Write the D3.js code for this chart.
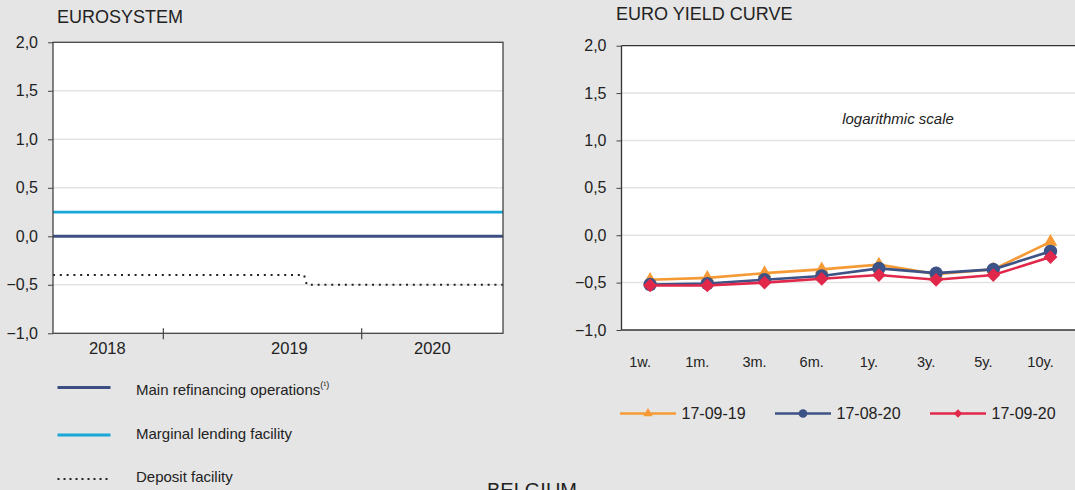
<!DOCTYPE html>
<html>
<head>
<meta charset="utf-8">
<script src="https://cdn.jsdelivr.net/npm/d3@7"></script>
<style>
  html, body { margin: 0; padding: 0; background: #e5e5e5; }
  svg { display: block; font-family: "Liberation Sans", Arial, sans-serif; }
</style>
</head>
<body>
<div id="chart"></div>
<script>
// ---- data: Eurosystem policy rates ----
var rateDates = ["2018-06-12", "2019-09-17", "2019-09-22", "2020-09-17"];
var mroRates = [0.00, 0.00, 0.00, 0.00];
var mlfRates = [0.25, 0.25, 0.25, 0.25];
var dfrRates = [-0.40, -0.40, -0.50, -0.50];
var yearLabels = ["2018", "2019", "2020"];
var yearLabelDates = ["2018-09-20", "2019-08-21", "2020-05-10"];
var yearTickDates = ["2019-01-01", "2020-01-01"];
var rateTicks = [2.0, 1.5, 1.0, 0.5, 0.0, -0.5, -1.0];

// ---- data: euro yield curve ----
var maturities = ["1w.", "1m.", "3m.", "6m.", "1y.", "3y.", "5y.", "10y."];
var curve190917 = [-0.47, -0.45, -0.40, -0.36, -0.31, -0.41, -0.36, -0.07];
var curve200817 = [-0.52, -0.51, -0.47, -0.43, -0.35, -0.40, -0.36, -0.17];
var curve200917 = [-0.53, -0.53, -0.50, -0.46, -0.42, -0.47, -0.42, -0.23];
var curveNames = ["17-09-19", "17-08-20", "17-09-20"];

var width = 1075;
var height = 490;
var parse = d3.timeParse("%Y-%m-%d");
var fmt = function(v) { return d3.format(".1f")(v).replace(".", ","); };

var svg = d3.select("#chart")
    .append("svg")
    .attr("width", width)
    .attr("height", height);

svg.append("rect").attr("width", width).attr("height", height).attr("fill", "#e5e5e5");

// =============== left chart ===============
var L = {left: 53, right: 503, top: 42.3, bottom: 333.3};

var xTime = d3.scaleTime()
    .domain([parse(rateDates[0]), parse(rateDates[rateDates.length - 1])])
    .range([L.left, L.right]);
var yLeft = d3.scaleLinear().domain([-1, 2]).range([L.bottom, L.top]);

svg.append("text")
    .attr("x", 57).attr("y", 23)
    .attr("font-size", 18).attr("fill", "#222")
    .text("EUROSYSTEM");

svg.append("rect")
    .attr("x", L.left).attr("y", L.top)
    .attr("width", L.right - L.left).attr("height", L.bottom - L.top)
    .attr("fill", "#fff");

// grid
svg.append("g").selectAll("line")
    .data(rateTicks.filter(function(d) { return d > -1 && d < 2; }))
    .enter().append("line")
    .attr("x1", L.left).attr("x2", L.right)
    .attr("y1", function(d) { return yLeft(d); })
    .attr("y2", function(d) { return yLeft(d); })
    .attr("stroke", "#e3e3e3").attr("stroke-width", 1.5);

// y axis
var yAxisL = d3.axisLeft(yLeft).tickValues(rateTicks).tickSize(5).tickPadding(10).tickFormat(fmt);
var gyl = svg.append("g").attr("transform", "translate(" + L.left + ",0)").call(yAxisL);
gyl.select(".domain").remove();
gyl.selectAll("line").attr("stroke", "#444");
gyl.selectAll("text").attr("font-size", 16).attr("fill", "#222").attr("font-family", "Liberation Sans, Arial, sans-serif");

// x ticks (year boundaries)
svg.append("g").selectAll("line")
    .data(yearTickDates)
    .enter().append("line")
    .attr("x1", function(d) { return xTime(parse(d)); })
    .attr("x2", function(d) { return xTime(parse(d)); })
    .attr("y1", L.bottom - 5).attr("y2", L.bottom + 6)
    .attr("stroke", "#444").attr("stroke-width", 1.2);

svg.append("g").selectAll("text")
    .data(yearLabels)
    .enter().append("text")
    .attr("x", function(d, i) { return xTime(parse(yearLabelDates[i])); })
    .attr("y", 354)
    .attr("text-anchor", "middle")
    .attr("font-size", 16.5).attr("fill", "#222")
    .text(function(d) { return d; });

function rateLine(values) {
    return d3.line()
        .x(function(d, i) { return xTime(parse(rateDates[i])); })
        .y(function(d) { return yLeft(d); })(values);
}

svg.append("path").attr("d", rateLine(mlfRates))
    .attr("fill", "none").attr("stroke", "#19a6d8").attr("stroke-width", 2.8);
svg.append("path").attr("d", rateLine(mroRates))
    .attr("fill", "none").attr("stroke", "#3d4f82").attr("stroke-width", 3);
svg.append("path").attr("d", rateLine(dfrRates))
    .attr("fill", "none").attr("stroke", "#222").attr("stroke-width", 2)
    .attr("stroke-dasharray", "2,4.8");

// frame
svg.append("rect")
    .attr("x", L.left).attr("y", L.top)
    .attr("width", L.right - L.left).attr("height", L.bottom - L.top)
    .attr("fill", "none").attr("stroke", "#444").attr("stroke-width", 1.3);

// left legend
var legL = [
    {name: "Main refinancing operations", sup: "(¹)", color: "#3d4f82", w: 3, dash: null, y: 387.5, ty: 395},
    {name: "Marginal lending facility", sup: "", color: "#19a6d8", w: 2.8, dash: null, y: 435, ty: 439},
    {name: "Deposit facility", sup: "", color: "#222", w: 2, dash: "2,4", y: 479, ty: 482}
];
var lg = svg.append("g").selectAll("g").data(legL).enter().append("g");
lg.append("line")
    .attr("x1", 57.5).attr("x2", 110.5)
    .attr("y1", function(d) { return d.y; }).attr("y2", function(d) { return d.y; })
    .attr("stroke", function(d) { return d.color; })
    .attr("stroke-width", function(d) { return d.w; })
    .attr("stroke-dasharray", function(d) { return d.dash; });
var lt = lg.append("text")
    .attr("x", 136).attr("y", function(d) { return d.ty; })
    .attr("font-size", 15).attr("fill", "#222");
lt.append("tspan").text(function(d) { return d.name; });
lt.append("tspan").attr("font-size", 9).attr("dy", -7).text(function(d) { return d.sup; });

// =============== right chart ===============
var R = {left: 621.5, right: 621.5 + 8 * 57.2, top: 45.7, bottom: 330};

var xCat = d3.scalePoint().domain(maturities).range([R.left, R.right]).padding(0.5);
var yRight = d3.scaleLinear().domain([-1, 2]).range([R.bottom, R.top]);

svg.append("text")
    .attr("x", 616).attr("y", 19.5)
    .attr("font-size", 18).attr("fill", "#222")
    .text("EURO YIELD CURVE");

svg.append("rect")
    .attr("x", R.left).attr("y", R.top)
    .attr("width", R.right - R.left).attr("height", R.bottom - R.top)
    .attr("fill", "#fff");

svg.append("g").selectAll("line")
    .data(rateTicks.filter(function(d) { return d > -1 && d < 2; }))
    .enter().append("line")
    .attr("x1", R.left).attr("x2", R.right)
    .attr("y1", function(d) { return yRight(d); })
    .attr("y2", function(d) { return yRight(d); })
    .attr("stroke", "#e3e3e3").attr("stroke-width", 1.5);

var yAxisR = d3.axisLeft(yRight).tickValues(rateTicks).tickSize(5).tickPadding(10).tickFormat(fmt);
var gyr = svg.append("g").attr("transform", "translate(" + R.left + ",0)").call(yAxisR);
gyr.select(".domain").remove();
gyr.selectAll("line").attr("stroke", "#444");
gyr.selectAll("text").attr("font-size", 16).attr("fill", "#222").attr("font-family", "Liberation Sans, Arial, sans-serif");

svg.append("g").selectAll("text")
    .data(maturities)
    .enter().append("text")
    .attr("x", function(d) { return xCat(d) - 10; })
    .attr("y", 367)
    .attr("text-anchor", "middle")
    .attr("font-size", 14.5).attr("fill", "#222")
    .text(function(d) { return d; });

svg.append("text")
    .attr("x", 898).attr("y", 123.5)
    .attr("text-anchor", "middle")
    .attr("font-size", 15).attr("font-style", "italic").attr("fill", "#222")
    .text("logarithmic scale");

// axes lines
svg.append("line").attr("x1", R.left).attr("x2", R.left).attr("y1", R.top).attr("y2", R.bottom)
    .attr("stroke", "#333").attr("stroke-width", 1.3);
svg.append("line").attr("x1", R.left).attr("x2", R.right).attr("y1", R.bottom).attr("y2", R.bottom)
    .attr("stroke", "#333").attr("stroke-width", 1.3);
svg.append("line").attr("x1", R.left).attr("x2", R.right).attr("y1", R.top).attr("y2", R.top)
    .attr("stroke", "#333").attr("stroke-width", 1.3);

var curves = [
    {name: curveNames[0], values: curve190917, color: "#f59a35", sym: d3.symbolTriangle, size: 80, legSize: 40, rot: 0},
    {name: curveNames[1], values: curve200817, color: "#3d5286", sym: d3.symbolCircle, size: 140, legSize: 60, rot: 0},
    {name: curveNames[2], values: curve200917, color: "#e1284a", sym: d3.symbolSquare, size: 95, legSize: 36, rot: 45}
];

var curveLine = d3.line()
    .x(function(d, i) { return xCat(maturities[i]); })
    .y(function(d) { return yRight(d); });

curves.forEach(function(c) {
    var g = svg.append("g");
    g.append("path").attr("d", curveLine(c.values))
        .attr("fill", "none").attr("stroke", c.color).attr("stroke-width", 2.6);
    g.selectAll("path.pt").data(c.values).enter().append("path")
        .attr("class", "pt")
        .attr("d", d3.symbol().type(c.sym).size(c.size))
        .attr("transform", function(d, i) {
            return "translate(" + xCat(maturities[i]) + "," + yRight(d) + ") rotate(" + c.rot + ")";
        })
        .attr("fill", c.color);
});

// right legend
var legX = [620, 775, 930];
curves.forEach(function(c, i) {
    var g = svg.append("g").attr("transform", "translate(" + legX[i] + ",413.5)");
    g.append("line").attr("x1", 0).attr("x2", 56).attr("y1", 0).attr("y2", 0)
        .attr("stroke", c.color).attr("stroke-width", 2.6);
    g.append("path").attr("d", d3.symbol().type(c.sym).size(c.legSize))
        .attr("transform", "translate(28,0) rotate(" + c.rot + ")")
        .attr("fill", c.color);
    g.append("text").attr("x", 61.5).attr("y", 5.8)
        .attr("font-size", 16).attr("fill", "#222")
        .text(c.name);
});

// section heading at the foot (cut by the frame)
svg.append("text")
    .attr("x", 487).attr("y", 497)
    .attr("font-size", 20).attr("fill", "#222")
    .text("BELGIUM");
</script>
</body>
</html>
